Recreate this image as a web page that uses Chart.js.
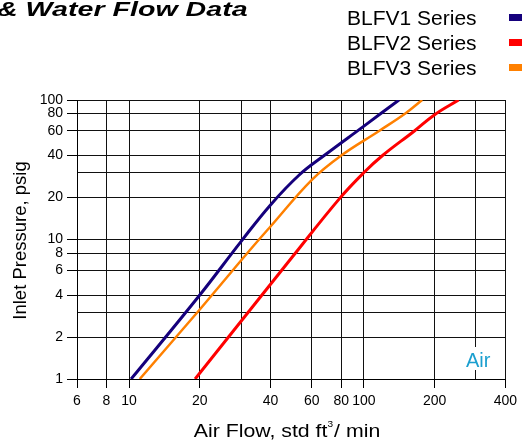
<!DOCTYPE html>
<html>
<head>
<meta charset="utf-8">
<script src="https://cdn.jsdelivr.net/npm/chart.js@4.4.0/dist/chart.umd.min.js"></script>
<style>
  html, body { margin: 0; padding: 0; background: #fff; }
  #wrap { width: 522px; height: 446px; }
</style>
</head>
<body>
<div id="wrap"><canvas id="chart" width="522" height="446"></canvas></div>
<script>
// --- DATA ---
const seriesNames = ['BLFV1 Series', 'BLFV2 Series', 'BLFV3 Series'];
const seriesColors = ['#15007c', '#ff0000', '#ff8000'];

const blfv1Flow = [10.2, 20, 30, 40, 53, 67.7, 100, 141];
const blfv1Pressure = [1, 4, 9.7, 17.7, 29, 40, 65, 100];

const blfv2Flow = [19.1, 50.5, 79, 100, 120, 164, 200, 253];
const blfv2Pressure = [1, 7.8, 19.8, 30.2, 40, 60, 78.5, 100];

const blfv3Flow = [11.1, 20, 32.3, 40, 60, 80, 116, 150, 177];
const blfv3Pressure = [1, 3.15, 8.2, 12.4, 26.8, 40, 60, 80, 100];

// grid lines and which of them carry a label
const xGrid = [6, 8, 10, 20, 30, 40, 60, 80, 100, 200, 300, 400];
const xLabels = [6, 8, 10, 20, 40, 60, 80, 100, 200, 400];
const yGrid = [1, 2, 3, 4, 6, 8, 10, 20, 30, 40, 60, 80, 100];
const yLabels = [1, 2, 4, 6, 8, 10, 20, 40, 60, 80, 100];

const titleText = '& Water Flow Data';
const mediumLabel = 'Air';

const toPoints = (xs, ys) => xs.map((x, i) => ({ x: x, y: ys[i] }));

const FONT = '"Liberation Sans", Arial, Helvetica, sans-serif';

// --- TEXTOS EXTRA (título, leyenda, ejes, etiqueta Air) ---
const extraText = {
  id: 'extraText',
  afterDraw(chart) {
    const ctx = chart.ctx;
    const area = chart.chartArea;
    ctx.save();
    ctx.fillStyle = '#000';
    ctx.textBaseline = 'alphabetic';

    // título (cortado a la izquierda como en el original)
    ctx.save();
    ctx.font = 'italic bold 20px ' + FONT;
    ctx.translate(-3, 16);
    ctx.scale(1.43, 1);
    ctx.fillText(titleText, 0, 0);
    ctx.restore();

    // leyenda
    ctx.font = '20px ' + FONT;
    seriesNames.forEach((name, i) => {
      const base = 25 + i * 25;
      ctx.save();
      ctx.translate(347, base);
      ctx.scale(1.05, 1);
      ctx.fillStyle = '#000';
      ctx.fillText(name, 0, 0);
      ctx.restore();
      ctx.fillStyle = seriesColors[i];
      ctx.fillRect(509, base - 11, 16, 7);
    });

    // título eje Y
    ctx.fillStyle = '#000';
    ctx.save();
    ctx.translate(26, (area.top + area.bottom) / 2 + 1);
    ctx.rotate(-Math.PI / 2);
    ctx.font = '18.5px ' + FONT;
    ctx.textAlign = 'center';
    ctx.fillText('Inlet Pressure, psig', 0, 0);
    ctx.restore();

    // título eje X con superíndice
    const partA = 'Air Flow, std ft';
    const sup = '3';
    const partB = '/ min';
    ctx.font = '19px ' + FONT;
    const wA = ctx.measureText(partA).width;
    const wB = ctx.measureText(partB).width;
    ctx.font = '9px ' + FONT;
    const wS = ctx.measureText(sup).width + 1;
    const total = (wA + wS + wB) * 1.12;
    ctx.save();
    ctx.translate(287 - total / 2, 437);
    ctx.scale(1.12, 1);
    ctx.font = '19px ' + FONT;
    ctx.fillText(partA, 0, 0);
    ctx.font = '9px ' + FONT;
    ctx.fillText(sup, wA, -10);
    ctx.font = '19px ' + FONT;
    ctx.fillText(partB, wA + wS, 0);
    ctx.restore();

    // etiqueta Air con fondo blanco
    ctx.font = '20px ' + FONT;
    const wAir = ctx.measureText(mediumLabel).width;
    ctx.fillStyle = '#fff';
    ctx.fillRect(464, 347, wAir + 4, 23);
    ctx.fillStyle = '#1b9fcf';
    ctx.fillText(mediumLabel, 466, 367);

    ctx.restore();
  }
};

const labeledTickColor = (labels) => (c) => (c.tick && labels.includes(c.tick.value)) ? '#000' : 'rgba(0,0,0,0)';

new Chart(document.getElementById('chart'), {
  type: 'line',
  data: {
    datasets: [
      {
        label: seriesNames[2],
        data: toPoints(blfv3Flow, blfv3Pressure),
        borderColor: seriesColors[2],
        borderWidth: 2.5
      },
      {
        label: seriesNames[0],
        data: toPoints(blfv1Flow, blfv1Pressure),
        borderColor: seriesColors[0],
        borderWidth: 3
      },
      {
        label: seriesNames[1],
        data: toPoints(blfv2Flow, blfv2Pressure),
        borderColor: seriesColors[1],
        borderWidth: 3
      }
    ]
  },
  options: {
    responsive: false,
    devicePixelRatio: 1,
    animation: false,
    parsing: false,
    elements: {
      point: { radius: 0 },
      line: { tension: 0.4, fill: false }
    },
    layout: { padding: { top: 100, right: 14, left: 0, bottom: 0 } },
    plugins: {
      legend: { display: false },
      title: { display: false },
      tooltip: { enabled: false }
    },
    scales: {
      x: {
        type: 'logarithmic',
        min: 6,
        max: 400,
        afterBuildTicks: (s) => { s.ticks = xGrid.map(v => ({ value: v })); },
        afterFit: (s) => { s.height = 67; },
        ticks: {
          autoSkip: false,
          maxRotation: 0,
          padding: 5,
          color: '#000',
          font: { family: FONT, size: 14 },
          callback: (v) => xLabels.includes(v) ? String(v) : ''
        },
        grid: {
          color: '#111',
          lineWidth: 1,
          tickLength: 9,
          tickColor: labeledTickColor(xLabels)
        },
        border: { display: true, color: '#000', width: 1 }
      },
      y: {
        type: 'logarithmic',
        min: 1,
        max: 100,
        afterBuildTicks: (s) => { s.ticks = yGrid.map(v => ({ value: v })); },
        afterFit: (s) => { s.width = 77; },
        ticks: {
          autoSkip: false,
          padding: 4,
          color: '#000',
          font: { family: FONT, size: 14 },
          callback: (v) => yLabels.includes(v) ? String(v) : ''
        },
        grid: {
          color: '#111',
          lineWidth: 1,
          tickLength: 10,
          tickColor: labeledTickColor(yLabels)
        },
        border: { display: true, color: '#000', width: 1 }
      }
    }
  },
  plugins: [extraText]
});
</script>
</body>
</html>
